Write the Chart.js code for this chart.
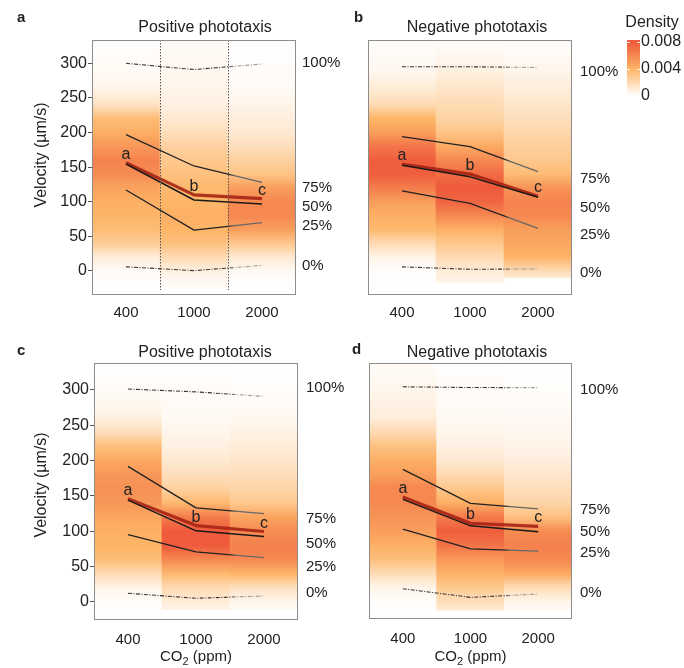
<!DOCTYPE html>
<html><head><meta charset="utf-8">
<script src="https://cdn.jsdelivr.net/npm/chart.js@4.4.1/dist/chart.umd.min.js"></script>
<style>
html,body{margin:0;padding:0;background:#fff;}
#wrap{position:relative;width:684px;height:668px;overflow:hidden;background:#fff;}
canvas{position:absolute;}
</style></head><body>
<div id="wrap">
<canvas id="pa" width="362" height="334" style="left:0px;top:0px"></canvas>
<canvas id="pc" width="362" height="334" style="left:0px;top:334px"></canvas>
<canvas id="pb" width="342" height="334" style="left:342px;top:0px"></canvas>
<canvas id="pd" width="342" height="334" style="left:342px;top:334px"></canvas>
<canvas id="cb" width="84" height="110" style="left:600px;top:0px"></canvas>
</div>
<script>
// ---------- data ----------
const co2Labels = ['400', '1000', '2000'];
const yTicks = [0, 50, 100, 150, 200, 250, 300];
const pctLabels = ['100%', '75%', '50%', '25%', '0%'];
const meanLetters = ['a', 'b', 'c'];
const densTicks = [0, 0.004, 0.008];
// velocity grid (µm/s) at which densities (x 0.001) are given
const velocityGrid = [-40,-20,0,20,40,60,80,100,120,140,160,180,200,220,240,260,280,300,320,340];

// panel a – Positive phototaxis
const a_q100 = [300, 291, 299];
const a_q75  = [197, 151.7, 128];
const a_mean = [156.5, 110, 104.5];
const a_q50  = [154.6, 102.6, 96.8];
const a_q25  = [117, 59, 70];
const a_q0   = [6, 0.5, 8];
const a_pctAt = [300.5, 120, 92.5, 65, 7];
const a_dens400  = [0,0,0.2,1.0,2.8,3.6,4.0,4.2,4.8,5.8,6.2,5.3,4.3,3.6,1.6,0.7,0.35,0.2,0.1,0.05];
const a_dens1000 = [0,0.2,0.8,2.0,3.4,4.0,4.2,4.0,3.8,3.4,3.0,2.5,1.8,1.2,0.8,0.6,0.45,0.35,0.3,0.25];
const a_dens2000 = [0,0,0.3,1.2,3.0,5.0,6.0,6.0,5.0,3.2,2.5,1.8,1.2,0.9,0.6,0.3,0.2,0.1,0.05,0];
const a_bottom = [-40, -27, -40];

// panel b – Negative phototaxis
const b_q100 = [295, 295, 294];
const b_q75  = [194, 179.6, 143.5];
const b_mean = [154.6, 140, 108];
const b_q50  = [152.7, 136, 106.5];
const b_q25  = [115.6, 97.8, 61.7];
const b_q0   = [6, 2.4, 3];
const b_pctAt = [288, 133, 91, 52, -3];
const b_dens400  = [0,0,0.1,0.6,2.0,3.8,4.2,5.0,6.5,7.8,7.8,6.8,5.0,4.0,2.0,1.2,0.6,0.3,0.15,0.05];
const b_dens1000 = [0.3,0.5,1.0,2.0,3.0,4.2,6.0,7.5,8.0,7.2,6.0,4.5,3.2,2.4,2.0,1.5,1.0,0.6,0.3,0.1];
const b_dens2000 = [0,0,2.0,4.0,4.6,5.0,6.0,6.2,5.5,3.6,3.0,2.6,2.2,1.8,1.4,1.0,0.7,0.4,0.2,0.1];
const b_bottom = [-40, -17, -10];

// panel c – Positive phototaxis
const c_q100 = [301, 297, 290.6];
const c_q75  = [191.6, 133, 125];
const c_mean = [145.8, 108, 99.6];
const c_q50  = [144, 100.5, 92.5];
const c_q25  = [95.3, 70.8, 62.8];
const c_q0   = [12.3, 5.2, 8.5];
const c_pctAt = [302, 118, 82.6, 50, 13.3];
const c_dens400  = [0,0,0.1,0.6,2.0,3.6,4.0,4.2,4.6,5.3,5.6,5.3,4.5,3.5,1.8,0.8,0.4,0.2,0.1,0.05];
const c_dens1000 = [0.1,0.3,1.0,2.0,3.8,6.0,8.0,8.0,6.5,3.8,2.5,1.8,1.2,0.8,0.5,0.3,0.25,0.2,0.1,0.05];
const c_dens2000 = [0,0.1,0.5,1.6,4.0,6.0,6.3,5.8,4.8,3.0,2.3,1.8,1.4,1.0,0.7,0.4,0.25,0.1,0.05,0];
const c_bottom = [-30, -11, -11];

// panel d – Negative phototaxis
const d_q100 = [304, 303, 302.8];
const d_q75  = [186.8, 138.7, 130.7];
const d_mean = [147.7, 110.4, 106];
const d_q50  = [144.3, 106.7, 98.2];
const d_q25  = [101.9, 74.1, 70.8];
const d_q0   = [17.5, 5.2, 10];
const d_pctAt = [299.7, 128.8, 98.2, 69, 11];
const d_dens400  = [0,0,0.1,0.6,2.0,3.5,4.3,5.0,5.5,6.0,6.0,5.0,4.2,3.3,2.0,1.0,0.7,0.5,0.3,0.2];
const d_dens1000 = [0.5,0.8,1.8,3.0,4.2,5.3,7.0,7.8,6.5,4.2,3.0,2.0,1.2,0.8,0.5,0.3,0.25,0.2,0.1,0.05];
const d_dens2000 = [0,0.1,0.6,2.0,4.6,6.0,6.3,5.8,3.3,2.3,1.8,1.3,0.9,0.6,0.45,0.3,0.2,0.1,0.05,0];
const d_bottom = [-30, -13, -13];

// ---------- helpers ----------
const FONT = '"Liberation Sans", Arial, Helvetica, sans-serif';
const TXT = '#222';

function densColor(d) { // d in units of 0.001
  const stops = [[0, [255,255,255]], [4, [253,181,103]], [8, [238,90,59]]];
  d = Math.max(0, Math.min(8, d));
  for (let i = 1; i < stops.length; i++) {
    if (d <= stops[i][0]) {
      const [d0, c0] = stops[i-1], [d1, c1] = stops[i];
      const t = (d - d0) / (d1 - d0);
      return 'rgb(' + c0.map((c, k) => Math.round(c + (c1[k] - c) * t)).join(',') + ')';
    }
  }
  return 'rgb(238,90,59)';
}

function densityFill(densArrays) {
  return (ctx) => {
    const chart = ctx.chart;
    if (!chart.chartArea || ctx.type !== 'data') return 'rgba(0,0,0,0)';
    const y = chart.scales.y;
    const d = densArrays[ctx.dataIndex];
    const p0 = y.getPixelForValue(velocityGrid[0]);
    const p1 = y.getPixelForValue(velocityGrid[velocityGrid.length - 1]);
    const g = chart.ctx.createLinearGradient(0, p0, 0, p1);
    velocityGrid.forEach((v, k) => g.addColorStop(k / (velocityGrid.length - 1), densColor(d[k])));
    return g;
  };
}

function fadeColor(dark, light) {
  return (ctx) => {
    const chart = ctx.chart, area = chart.chartArea;
    if (!area) return dark;
    const x = chart.scales.x;
    const b = (x.getPixelForValue(1) + x.getPixelForValue(2)) / 2;
    const t = (b - area.left) / (area.right - area.left);
    const g = chart.ctx.createLinearGradient(area.left, 0, area.right, 0);
    g.addColorStop(0, dark); g.addColorStop(t, dark);
    g.addColorStop(Math.min(1, t + 0.03), light); g.addColorStop(1, light);
    return g;
  };
}

const deco = {
  id: 'deco',
  afterDatasetsDraw(chart, args, o) {
    const c = chart.ctx, area = chart.chartArea, x = chart.scales.x, y = chart.scales.y;
    c.save();
    if (o.boundaries) {
      c.strokeStyle = '#555'; c.lineWidth = 1; c.setLineDash([1.5, 1.5]);
      [0, 1].forEach(i => {
        const bx = Math.round((x.getPixelForValue(i) + x.getPixelForValue(i + 1)) / 2) + 0.5;
        c.beginPath(); c.moveTo(bx, area.top); c.lineTo(bx, area.bottom - 5); c.stroke();
      });
      c.setLineDash([]);
    }
    c.strokeStyle = '#8c8c8c'; c.lineWidth = 1;
    c.strokeRect(Math.round(area.left) + 0.5, Math.round(area.top) + 0.5,
                 Math.round(area.right - area.left) - 1, Math.round(area.bottom - area.top) - 1);
    // letters near mean
    c.fillStyle = TXT; c.font = '16px ' + FONT; c.textAlign = 'center'; c.textBaseline = 'alphabetic';
    o.mean.forEach((m, i) => c.fillText(meanLetters[i], x.getPixelForValue(i), y.getPixelForValue(m) - 4));
    c.restore();
  },
  afterDraw(chart, args, o) {
    const c = chart.ctx, area = chart.chartArea, y = chart.scales.y;
    c.save();
    c.fillStyle = TXT;
    // title
    c.font = '16px ' + FONT; c.textAlign = 'center'; c.textBaseline = 'alphabetic';
    c.fillText(o.title, o.titleX, o.titleBase);
    // panel letter
    c.font = 'bold 15px ' + FONT; c.textAlign = 'left';
    c.fillText(o.letter, o.letterX, o.letterBase);
    // percentage labels
    c.font = '15px ' + FONT; c.textAlign = 'left'; c.textBaseline = 'middle';
    o.pctAt.forEach((v, i) => c.fillText(pctLabels[i], area.right + o.pctDx, y.getPixelForValue(v)));
    // y title
    if (o.yTitleY) {
      c.save(); c.translate(42, o.yTitleY); c.rotate(-Math.PI / 2);
      c.font = '16px ' + FONT; c.textAlign = 'center'; c.textBaseline = 'middle';
      c.fillText('Velocity (µm/s)', 0, 0); c.restore();
    }
    // x title with subscript
    if (o.xTitleBase) {
      const big = '15px ' + FONT, small = '11px ' + FONT;
      c.textBaseline = 'alphabetic'; c.textAlign = 'left';
      c.font = big; const w1 = c.measureText('CO').width, w3 = c.measureText(' (ppm)').width;
      c.font = small; const w2 = c.measureText('2').width;
      let sx = (area.left + area.right) / 2 - (w1 + w2 + w3) / 2;
      c.font = big; c.fillText('CO', sx, o.xTitleBase);
      c.font = small; c.fillText('2', sx + w1, o.xTitleBase + 4);
      c.font = big; c.fillText(' (ppm)', sx + w1 + w2, o.xTitleBase);
    }
    c.restore();
  }
};

function makePanel(id, p) {
  const lineDs = (data, color, width, dash, order, light) => ({
    type: 'line', data, borderColor: light ? fadeColor(color, light) : color,
    borderWidth: width, borderDash: dash || [], pointRadius: 0, pointHoverRadius: 0,
    fill: false, tension: 0, order, borderJoinStyle: 'round'
  });
  new Chart(document.getElementById(id), {
    type: 'bar',
    data: {
      labels: co2Labels,
      datasets: [
        { type: 'bar', data: p.bottom.map(b => [Math.max(b, p.yMin), p.yMax]),
          backgroundColor: densityFill(p.dens), borderWidth: 0,
          barPercentage: 1, categoryPercentage: 1, order: 100 },
        lineDs(p.mean, 'rgba(168,38,22,0.92)', 3.2, null, 5),
        lineDs(p.q100, '#333', 1.1, [4, 1.5, 1, 1.5], 2, '#9a9a9a'),
        lineDs(p.q75, '#222', 1.3, null, 2, '#666'),
        lineDs(p.q50, '#1a1a1a', 1.5, null, 1),
        lineDs(p.q25, '#222', 1.3, null, 2, '#666'),
        lineDs(p.q0, '#333', 1.1, [4, 1.5, 1, 1.5], 2, '#9a9a9a')
      ]
    },
    options: {
      animation: false, responsive: false, devicePixelRatio: 1,
      layout: { padding: p.pad },
      plugins: { legend: { display: false }, tooltip: { enabled: false },
        deco: { title: p.title, titleX: p.titleX, titleBase: p.titleBase, letter: p.letter,
                letterX: p.letterX, letterBase: p.letterBase, pctAt: p.pctAt, pctDx: p.pctDx,
                mean: p.mean, yTitleY: p.yTitleY, xTitleBase: p.xTitleBase, boundaries: p.boundaries } },
      scales: {
        x: { type: 'category', offset: true,
             grid: { display: false, drawTicks: false }, border: { display: false },
             ticks: { font: { size: 15, family: FONT }, color: TXT, padding: p.xPad },
             afterFit: s => { s.height = p.xHeight; } },
        y: { type: 'linear', min: p.yMin, max: p.yMax, display: p.showY,
             afterBuildTicks: s => { s.ticks = yTicks.map(v => ({ value: v })); },
             afterFit: s => { s.width = p.yWidth; },
             grid: { drawOnChartArea: false, drawTicks: true, tickLength: 4, color: '#555' },
             border: { display: false },
             ticks: { font: { size: 16, family: FONT }, color: TXT, padding: 1 } }
      }
    },
    plugins: [deco]
  });
}

makePanel('pa', { dens: [a_dens400, a_dens1000, a_dens2000], bottom: a_bottom,
  q100: a_q100, q75: a_q75, mean: a_mean, q50: a_q50, q25: a_q25, q0: a_q0, pctAt: a_pctAt,
  yMin: -34.7, yMax: 333.7, showY: true, yWidth: 92, xHeight: 39, xPad: 9,
  pad: { left: 0, right: 66, top: 40, bottom: 0 },
  title: 'Positive phototaxis', titleX: 205, titleBase: 32, letter: 'a', letterX: 17, letterBase: 22,
  pctDx: 6, yTitleY: 155, xTitleBase: 0, boundaries: true });

makePanel('pb', { dens: [b_dens400, b_dens1000, b_dens2000], bottom: b_bottom,
  q100: b_q100, q75: b_q75, mean: b_mean, q50: b_q50, q25: b_q25, q0: b_q0, pctAt: b_pctAt,
  yMin: -34.7, yMax: 333.7, showY: false, yWidth: 0, xHeight: 39, xPad: 9,
  pad: { left: 26, right: 112, top: 40, bottom: 0 },
  title: 'Negative phototaxis', titleX: 135, titleBase: 32, letter: 'b', letterX: 12, letterBase: 22,
  pctDx: 8, yTitleY: 0, xTitleBase: 0, boundaries: false });

makePanel('pc', { dens: [c_dens400, c_dens1000, c_dens2000], bottom: c_bottom,
  q100: c_q100, q75: c_q75, mean: c_mean, q50: c_q50, q25: c_q25, q0: c_q0, pctAt: c_pctAt,
  yMin: -25.5, yMax: 337.8, showY: true, yWidth: 94, xHeight: 48, xPad: 11,
  pad: { left: 0, right: 64, top: 29, bottom: 0 },
  title: 'Positive phototaxis', titleX: 205, titleBase: 23, letter: 'c', letterX: 17, letterBase: 21,
  pctDx: 8, yTitleY: 151, xTitleBase: 327, boundaries: false });

makePanel('pd', { dens: [d_dens400, d_dens1000, d_dens2000], bottom: d_bottom,
  q100: d_q100, q75: d_q75, mean: d_mean, q50: d_q50, q25: d_q25, q0: d_q0, pctAt: d_pctAt,
  yMin: -25.5, yMax: 337.8, showY: false, yWidth: 0, xHeight: 49, xPad: 11,
  pad: { left: 27, right: 112, top: 29, bottom: 0 },
  title: 'Negative phototaxis', titleX: 135, titleBase: 23, letter: 'd', letterX: 10, letterBase: 20,
  pctDx: 8, yTitleY: 0, xTitleBase: 327, boundaries: false });

// ---------- colour bar ----------
const cbDeco = {
  id: 'cbDeco',
  afterDraw(chart) {
    const c = chart.ctx, area = chart.chartArea, y = chart.scales.y;
    c.save();
    c.strokeStyle = 'rgba(255,255,255,0.9)'; c.lineWidth = 1;
    densTicks.forEach(v => {
      const py = Math.round(y.getPixelForValue(v)) + 0.5;
      c.beginPath(); c.moveTo(area.left, py); c.lineTo(area.left + 3, py);
      c.moveTo(area.right - 3, py); c.lineTo(area.right, py); c.stroke();
    });
    c.fillStyle = TXT; c.font = '16px ' + FONT; c.textAlign = 'center'; c.textBaseline = 'alphabetic';
    c.fillText('Density', 52, 27);
    c.restore();
  }
};
new Chart(document.getElementById('cb'), {
  type: 'bar',
  data: { labels: [''], datasets: [{ data: [[-0.0003, 0.0083]], borderWidth: 0,
    barPercentage: 1, categoryPercentage: 1,
    backgroundColor: (ctx) => {
      const chart = ctx.chart;
      if (!chart.chartArea) return 'rgba(0,0,0,0)';
      const y = chart.scales.y;
      const g = chart.ctx.createLinearGradient(0, y.getPixelForValue(0), 0, y.getPixelForValue(0.008));
      [0, 1, 2, 3, 4, 5, 6, 7, 8].forEach(k => g.addColorStop(k / 8, densColor(k)));
      return g;
    } }] },
  options: {
    animation: false, responsive: false, devicePixelRatio: 1,
    layout: { padding: { left: 27, top: 40, bottom: 12, right: 0 } },
    plugins: { legend: { display: false }, tooltip: { enabled: false } },
    scales: {
      x: { display: false },
      y: { position: 'right', min: -0.0003, max: 0.0083,
           afterBuildTicks: s => { s.ticks = densTicks.map(v => ({ value: v })); },
           afterFit: s => { s.width = 44; },
           grid: { display: false, drawTicks: false }, border: { display: false },
           ticks: { font: { size: 16, family: FONT }, color: TXT, padding: 1,
                    callback: v => v === 0 ? '0' : v.toFixed(3) } }
    }
  },
  plugins: [cbDeco]
});
</script>
</body></html>
